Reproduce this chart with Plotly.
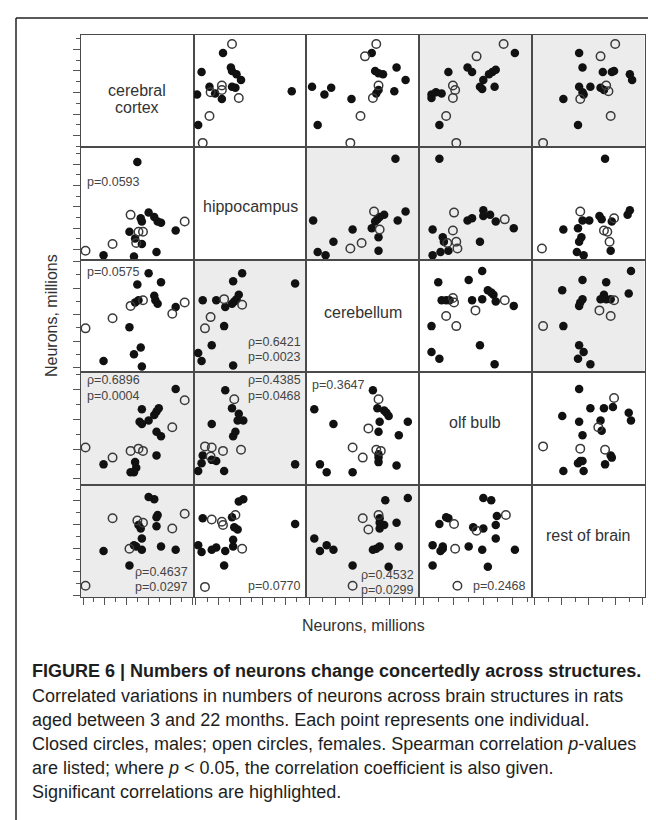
import plotly.graph_objects as go

# ---------------- data (% of each axis span) ----------------
structures = ["cerebral cortex", "hippocampus", "cerebellum", "olf bulb", "rest of brain"]

# upper-triangle panels: (x = column structure, y = row structure, sex)  M = closed, F = open
cortex_vs_hippocampus = [
    (34, 92, "F"), (26, 84, "M"), (7, 67, "M"), (33, 71, "M"), (34, 68, "M"), (38, 65, "M"),
    (42, 60, "M"), (25, 55, "F"), (14, 54, "M"), (15, 49, "F"), (19, 48, "M"), (25, 51, "F"),
    (34, 54, "M"), (37, 53, "M"), (25, 43, "M"), (40, 44, "F"), (3, 47, "M"), (87, 50, "M"),
    (14, 28, "F"), (4, 20, "M"), (8, 4, "F")]
cortex_vs_cerebellum = [
    (62, 92, "F"), (58, 84, "M"), (52, 81, "F"), (61, 68, "M"), (64, 66, "M"), (68, 65, "M"),
    (80, 71, "M"), (88, 60, "M"), (5, 54, "M"), (22, 53, "M"), (16, 47, "M"), (64, 55, "F"),
    (64, 51, "M"), (62, 48, "M"), (59, 44, "F"), (40, 43, "M"), (78, 50, "M"), (48, 28, "F"),
    (10, 20, "M"), (39, 4, "F")]
cortex_vs_olfbulb = [
    (75, 92, "F"), (85, 84, "M"), (51, 81, "F"), (43, 71, "M"), (47, 67, "M"), (26, 67, "M"),
    (62, 65, "M"), (65, 67, "M"), (68, 69, "M"), (57, 60, "M"), (54, 54, "M"), (56, 52, "M"),
    (67, 54, "M"), (30, 55, "F"), (32, 51, "F"), (30, 44, "F"), (11, 47, "M"), (11, 44, "M"),
    (15, 49, "M"), (20, 48, "M"), (24, 28, "F"), (18, 20, "M"), (33, 4, "F")]
cortex_vs_rest = [
    (74, 92, "F"), (42, 84, "M"), (61, 81, "F"), (45, 71, "M"), (63, 67, "M"), (71, 67, "M"),
    (73, 68, "M"), (87, 65, "M"), (89, 60, "M"), (42, 54, "M"), (52, 54, "M"), (45, 49, "M"),
    (46, 47, "M"), (43, 43, "F"), (61, 53, "M"), (64, 51, "M"), (66, 55, "F"), (68, 50, "F"),
    (28, 43, "M"), (70, 28, "F"), (41, 20, "M"), (10, 4, "F")]
hippocampus_vs_cerebellum = [
    (79, 90, "M"), (6, 35, "M"), (88, 43, "M"), (81, 35, "M"), (60, 43, "F"), (69, 40, "M"),
    (65, 38, "M"), (63, 36, "M"), (61, 34, "M"), (58, 28, "M"), (65, 27, "F"), (64, 20, "M"),
    (41, 27, "M"), (24, 16, "M"), (49, 15, "F"), (39, 10, "F"), (64, 8, "M"), (10, 7, "M"),
    (17, 4, "M")]
hippocampus_vs_olfbulb = [
    (18, 90, "M"), (31, 42, "F"), (57, 44, "M"), (43, 35, "M"), (47, 37, "M"), (57, 39, "M"),
    (63, 40, "M"), (68, 34, "M"), (76, 36, "F"), (84, 28, "M"), (12, 27, "M"), (30, 26, "F"),
    (21, 20, "M"), (22, 16, "M"), (25, 15, "F"), (33, 16, "F"), (54, 16, "M"), (34, 10, "F"),
    (26, 8, "M"), (19, 7, "M"), (12, 4, "M")]
hippocampus_vs_rest = [
    (65, 90, "M"), (43, 43, "F"), (45, 35, "M"), (51, 35, "M"), (60, 39, "M"), (62, 36, "M"),
    (73, 37, "F"), (71, 34, "M"), (87, 44, "M"), (85, 40, "M"), (28, 27, "M"), (41, 28, "M"),
    (64, 26, "F"), (67, 25, "F"), (69, 16, "F"), (44, 20, "M"), (42, 16, "M"), (70, 8, "M"),
    (40, 7, "M"), (46, 4, "M"), (9, 10, "F")]
cerebellum_vs_olfbulb = [
    (56, 90, "M"), (17, 80, "M"), (44, 82, "M"), (61, 73, "M"), (64, 71, "M"), (66, 69, "M"),
    (68, 63, "M"), (76, 64, "F"), (84, 59, "M"), (20, 64, "M"), (24, 64, "M"), (27, 64, "M"),
    (30, 66, "F"), (31, 62, "F"), (47, 64, "M"), (56, 65, "M"), (50, 55, "F"), (24, 50, "F"),
    (33, 41, "F"), (11, 41, "M"), (54, 24, "M"), (11, 18, "M"), (18, 12, "M"), (67, 7, "M")]
cerebellum_vs_rest = [
    (88, 90, "M"), (45, 82, "M"), (66, 80, "M"), (27, 73, "M"), (86, 70, "M"), (64, 69, "M"),
    (61, 65, "M"), (66, 65, "M"), (70, 65, "M"), (45, 65, "M"), (43, 62, "M"), (42, 59, "M"),
    (73, 64, "F"), (60, 55, "F"), (70, 50, "F"), (10, 41, "F"), (28, 41, "M"), (42, 24, "M"),
    (46, 18, "M"), (41, 12, "M"), (52, 7, "M")]
olfbulb_vs_rest = [
    (42, 85, "M"), (73, 77, "F"), (52, 68, "M"), (64, 68, "M"), (72, 69, "M"), (27, 61, "M"),
    (86, 64, "M"), (88, 57, "M"), (42, 56, "M"), (61, 57, "M"), (59, 51, "F"), (62, 48, "M"),
    (45, 44, "M"), (10, 34, "F"), (43, 32, "F"), (65, 31, "F"), (70, 26, "M"), (71, 24, "M"),
    (43, 21, "M"), (41, 19, "M"), (45, 21, "M"), (65, 18, "M"), (28, 12, "M"), (46, 12, "M")]

# Spearman statistics shown in the lower-left panels (row, col): (rho or None, p)
stats_cells = [(1, 0), (2, 0), (2, 1), (3, 0), (3, 1), (3, 2), (4, 0), (4, 1), (4, 2), (4, 3)]
stats_rho = [None, None, "0.6421", "0.6896", "0.4385", None, "0.4637", None, "0.4532", None]
stats_p = ["0.0593", "0.0575", "0.0023", "0.0004", "0.0468", "0.3647", "0.0297", "0.0770", "0.0299", "0.2468"]
significant = [(0, 3), (0, 4), (1, 2), (1, 3), (2, 4)]

caption_title = "FIGURE 6 | Numbers of neurons change concertedly across structures."
caption_lines = [
    "Correlated variations in numbers of neurons across brain structures in rats",
    "aged between 3 and 22 months. Each point represents one individual.",
    "Closed circles, males; open circles, females. Spearman correlation <i>p</i>-values",
    "are listed; where <i>p</i> &lt; 0.05, the correlation coefficient is also given.",
    "Significant correlations are highlighted.",
]
axis_title = "Neurons, millions"

pairs = {
    (0, 1): cortex_vs_hippocampus, (0, 2): cortex_vs_cerebellum, (0, 3): cortex_vs_olfbulb,
    (0, 4): cortex_vs_rest, (1, 2): hippocampus_vs_cerebellum, (1, 3): hippocampus_vs_olfbulb,
    (1, 4): hippocampus_vs_rest, (2, 3): cerebellum_vs_olfbulb, (2, 4): cerebellum_vs_rest,
    (3, 4): olfbulb_vs_rest,
}

# ---------------- layout geometry ----------------
W, H = 656, 820
GX0, GX1, GY0, GY1 = 73, 636.5, 27, 589
cw, ch = (GX1 - GX0) / 5, (GY1 - GY0) / 5
FONT = "Liberation Sans, Arial, Helvetica, sans-serif"
LINE = "#4a4a4a"
TICK = "#555555"

# tick layout per structure: (offset, spacing) in % of axis span
xticks = [(1.8, 9.7), (2.0, 9.9), (2.5, 11.8), (3.5, 13.3), (2.5, 12.0)]
yticks = [(10.4, 9.6), (9.2, 9.5), (4.0, 11.8), (5.0, 13.3), (1.5, 10.5)]

def px(x):
    return x / W

def py(y):
    return 1 - y / H

fig = go.Figure()
layout = dict(
    width=W, height=H, margin=dict(l=0, r=0, t=0, b=0),
    paper_bgcolor="white", plot_bgcolor="rgba(0,0,0,0)", showlegend=False,
    font=dict(family=FONT, color="#333"),
)
shapes = []
annotations = []

for i in range(5):
    for j in range(5):
        k = i * 5 + j + 1
        s = "" if k == 1 else str(k)
        xd = [px(GX0 + j * cw), px(GX0 + (j + 1) * cw)]
        yd = [py(GY0 + (i + 1) * ch), py(GY0 + i * ch)]
        xa = dict(domain=xd, range=[0, 100], anchor="y" + s, showline=True, mirror=True,
                  linecolor=LINE, linewidth=1.3, showgrid=False, zeroline=False,
                  showticklabels=False, fixedrange=True, ticks="")
        ya = dict(domain=yd, range=[0, 100], anchor="x" + s, showline=True, mirror=True,
                  linecolor=LINE, linewidth=1.3, showgrid=False, zeroline=False,
                  showticklabels=False, fixedrange=True, ticks="")
        if i == 4:
            off, sp = xticks[j]
            xa.update(ticks="outside", ticklen=7, tickwidth=1, tickcolor=TICK,
                      tickmode="linear", tick0=off, dtick=2 * sp,
                      minor=dict(ticks="outside", ticklen=4, tickwidth=1, tickcolor=TICK,
                                 tick0=off + sp, dtick=2 * sp))
        if j == 0:
            off, sp = yticks[i]
            ya.update(ticks="outside", ticklen=7, tickwidth=1, tickcolor=TICK,
                      tickmode="linear", tick0=off, dtick=2 * sp,
                      minor=dict(ticks="outside", ticklen=4, tickwidth=1, tickcolor=TICK,
                                 tick0=off + sp, dtick=2 * sp))
        layout["xaxis" + s] = xa
        layout["yaxis" + s] = ya

        if (min(i, j), max(i, j)) in significant:
            shapes.append(dict(type="rect", xref=f"x{s} domain", yref=f"y{s} domain",
                               x0=0, x1=1, y0=0, y1=1, fillcolor="#ececec",
                               line=dict(width=0), layer="below"))
        if i == j:
            # invisible placeholder so the diagonal panel (and its frame) is drawn
            fig.add_trace(go.Scatter(x=[None], y=[None], mode="markers", xaxis="x" + s,
                                     yaxis="y" + s, hoverinfo="skip",
                                     marker=dict(opacity=0)))
            continue
        if i < j:
            pts = pairs[(i, j)]
            xs = [p[0] for p in pts]
            ys = [p[1] for p in pts]
        else:
            pts = pairs[(j, i)]
            xs = [p[1] for p in pts]
            ys = [p[0] for p in pts]
        sex = [p[2] for p in pts]
        mx = [x for x, g in zip(xs, sex) if g == "M"]
        my = [y for y, g in zip(ys, sex) if g == "M"]
        fx = [x for x, g in zip(xs, sex) if g == "F"]
        fy = [y for y, g in zip(ys, sex) if g == "F"]
        fig.add_trace(go.Scatter(x=mx, y=my, mode="markers", xaxis="x" + s, yaxis="y" + s,
                                 marker=dict(symbol="circle", size=8.5, color="#111111",
                                             line=dict(width=0)), hoverinfo="skip"))
        fig.add_trace(go.Scatter(x=fx, y=fy, mode="markers", xaxis="x" + s, yaxis="y" + s,
                                 marker=dict(symbol="circle-open", size=8.5, color="#3a3a3a",
                                             line=dict(width=1.5)), hoverinfo="skip"))

# diagonal structure names
diag_pos = [[("cerebral", 0.505), ("cortex", 0.355)], [("hippocampus", 0.47)],
            [("cerebellum", 0.53)], [("olf bulb", 0.555)], [("rest of brain", 0.55)]]
for i, items in enumerate(diag_pos):
    k = i * 5 + i + 1
    s = "" if k == 1 else str(k)
    for txt, yy in items:
        annotations.append(dict(text=txt, xref=f"x{s} domain", yref=f"y{s} domain",
                                x=0.5, y=yy, showarrow=False, xanchor="center", yanchor="middle",
                                borderpad=0, font=dict(size=16, color="#333", family=FONT)))

# statistics text placement (style): corner, line positions
stat_place = {
    (1, 0): ("left", [0.69]), (2, 0): ("left", [0.89]), (2, 1): ("right", [0.268, 0.132]),
    (3, 0): ("left", [0.928, 0.792]), (3, 1): ("right", [0.928, 0.792]), (3, 2): ("left", [0.89]),
    (4, 0): ("right", [0.22, 0.085]), (4, 1): ("right", [0.10]), (4, 2): ("right", [0.195, 0.06]),
    (4, 3): ("right", [0.10]),
}
for (cell, rho, p) in zip(stats_cells, stats_rho, stats_p):
    i, j = cell
    k = i * 5 + j + 1
    s = "" if k == 1 else str(k)
    side, ys = stat_place[cell]
    lines = ([f"ρ={rho}"] if rho else []) + [f"p={p}"]
    xx = 0.045 if side == "left" else 0.96
    for txt, yy in zip(lines, ys):
        annotations.append(dict(text=txt, xref=f"x{s} domain", yref=f"y{s} domain",
                                x=xx, y=yy, showarrow=False, xanchor=side, yanchor="middle",
                                borderpad=0, font=dict(size=12.5, color="#444", family=FONT)))

# axis titles
annotations.append(dict(text=axis_title, xref="paper", yref="paper", x=px(355.5), y=py(617),
                        showarrow=False, xanchor="center", yanchor="middle",
                        font=dict(size=16, color="#333", family=FONT)))
annotations.append(dict(text=axis_title, xref="paper", yref="paper", x=px(43), y=py(308),
                        showarrow=False, xanchor="center", yanchor="middle", textangle=-90,
                        font=dict(size=16, color="#333", family=FONT)))

# caption
cap_y = [663, 688, 712, 736, 760, 784]
annotations.append(dict(text="<b>" + caption_title + "</b>", xref="paper", yref="paper",
                        x=px(22), y=py(cap_y[0]), showarrow=False, xanchor="left",
                        yanchor="middle", font=dict(size=18, color="#1e1e1e", family=FONT)))
for txt, yy in zip(caption_lines, cap_y[1:]):
    annotations.append(dict(text=txt, xref="paper", yref="paper", x=px(22), y=py(yy),
                            showarrow=False, xanchor="left", yanchor="middle",
                            font=dict(size=18, color="#1e1e1e", family=FONT)))

# outer frame (top and left rules)
shapes.append(dict(type="line", xref="paper", yref="paper", x0=px(8), x1=1.0, y0=py(10), y1=py(10),
                   line=dict(color="#222", width=1.5)))
shapes.append(dict(type="line", xref="paper", yref="paper", x0=px(8), x1=px(8), y0=py(10), y1=0,
                   line=dict(color="#222", width=1.5)))

layout["shapes"] = shapes
layout["annotations"] = annotations
fig.update_layout(**layout)
fig.write_html("out.html")
